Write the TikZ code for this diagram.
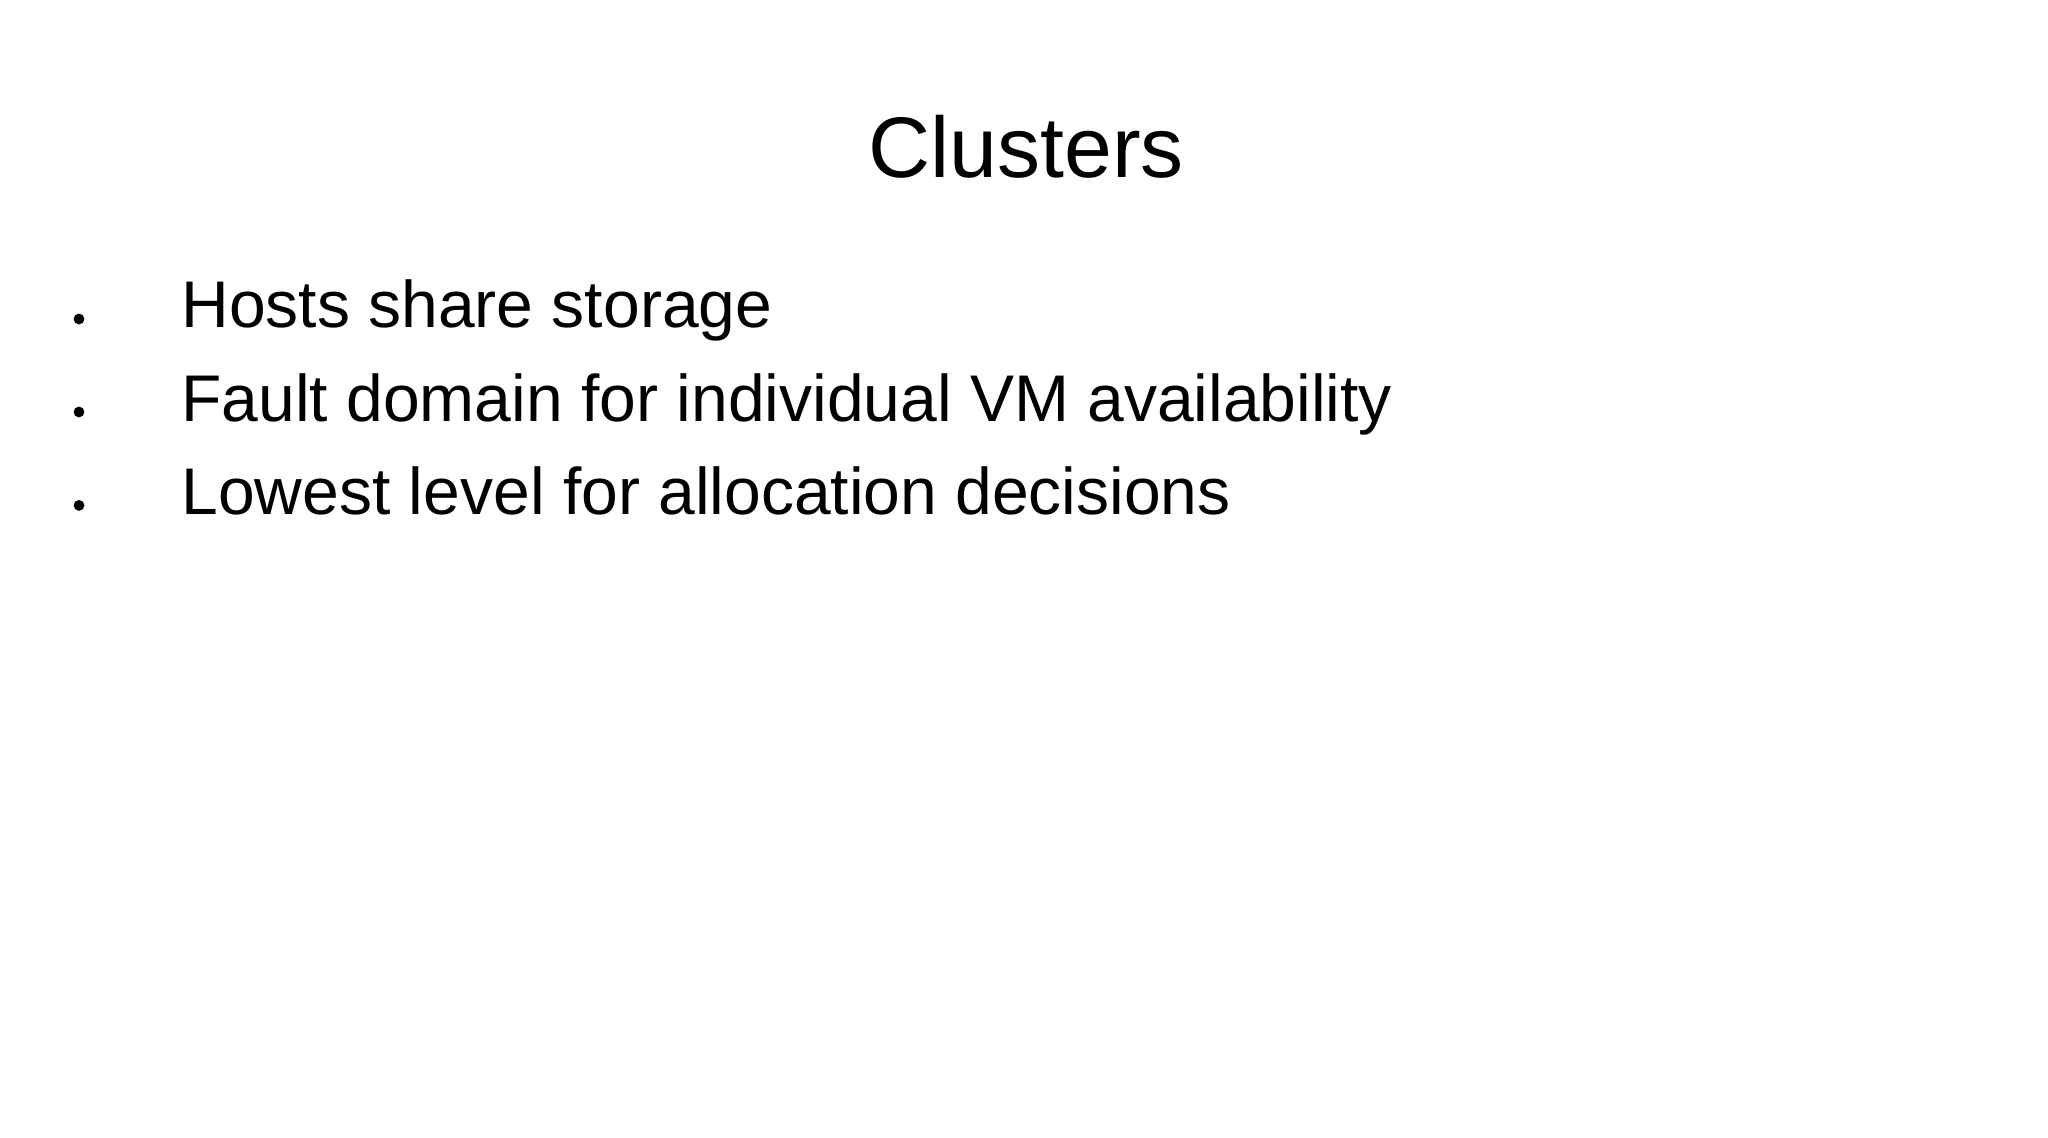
\documentclass[tikz,border=0pt]{standalone}
\usepackage{fontspec}
\setmainfont{Liberation Sans}
\begin{document}
\begin{tikzpicture}[x=1pt,y=1pt,
  item/.style={anchor=base west,inner sep=0pt,font=\fontsize{33}{38}\selectfont},
  dot/.style={circle,fill=black,inner sep=0pt,minimum size=5.4pt}]
\useasboundingbox[fill=white] (0,0) rectangle (1024,569);
\node[anchor=base,inner sep=0pt,font=\fontsize{43}{50}\selectfont] (title) at (513,480.4) {Clusters};
\node[item] (b1) at (90.6,405) {Hosts share storage};
\node[item] (b2) at (90.6,358.3) {Fault domain for individual VM availability};
\node[item] (b3) at (90.6,311.7) {Lowest level for allocation decisions};
\node[dot] (d1) at (39.5,409.5) {};
\node[dot] (d2) at (39.5,363) {};
\node[dot] (d3) at (39.5,316.3) {};
\end{tikzpicture}
\end{document}
